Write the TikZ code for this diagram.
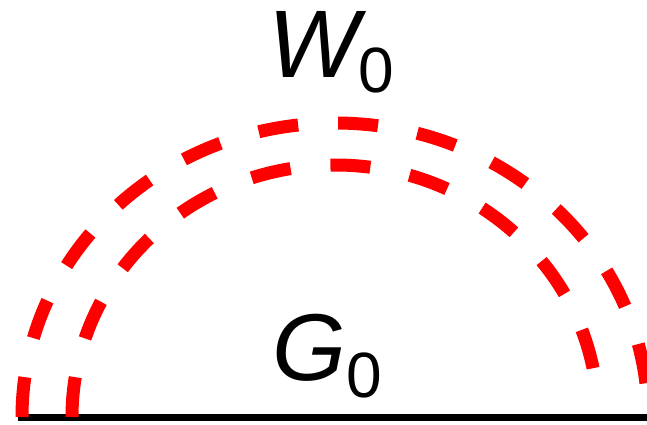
\documentclass[tikz,border=0pt]{standalone}
\usepackage{fontspec}
\newfontfamily\lblfont{Liberation Sans}
\usetikzlibrary{calc}

\begin{document}
\begin{tikzpicture}[x=1pt, y=1pt,
    prop/.style={line width=7pt, black},
    wline/.style={line width=13pt, red, dash pattern=on 40pt off 40pt},
    lbl/.style={anchor=base west, inner sep=0pt, font=\lblfont}]
  \useasboundingbox (0,0) rectangle (647,424);
  % Green's function line
  \coordinate (gin) at (18,7);
  \coordinate (gout) at (660,7);
  \draw[prop] (gin) -- (gout);
  % Screened interaction (double dashed)
  \coordinate (wout) at (22,7);
  \coordinate (win) at (72,7);
  \draw[wline] (wout) arc[start angle=180, end angle=0, x radius=313, y radius=294];
  \draw[wline] (win) arc[start angle=180, end angle=3, x radius=263, y radius=252];
  % Labels
  \node[lbl] (wlab) at (268,347) {\fontsize{96}{96}\selectfont\itshape W\raisebox{-15pt}{\fontsize{64}{64}\selectfont\upshape 0}};
  \node[lbl] (glab) at (272,44) {\fontsize{95}{95}\selectfont\itshape G\raisebox{-17pt}{\fontsize{64}{64}\selectfont\upshape 0}};
\end{tikzpicture}
\end{document}
